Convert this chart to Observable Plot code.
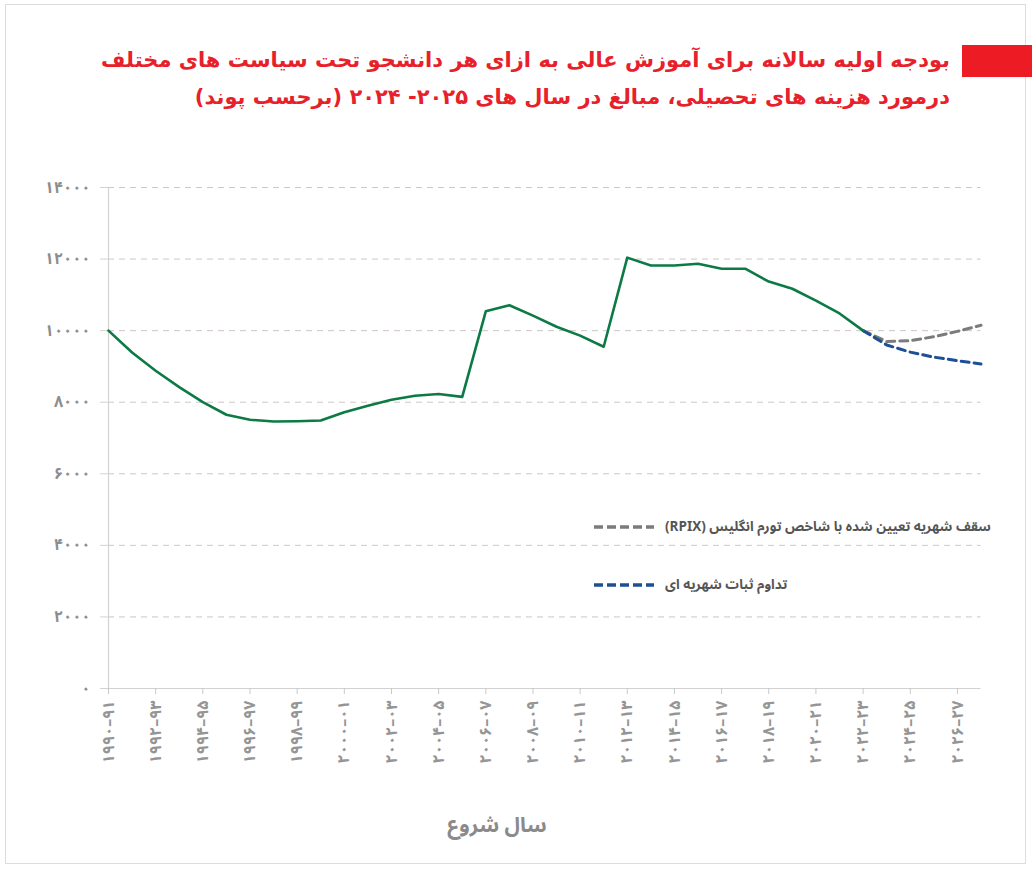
<!DOCTYPE html>
<html lang="fa">
<head>
<meta charset="utf-8">
<script src="https://cdn.jsdelivr.net/npm/d3@7"></script>
<script src="https://cdn.jsdelivr.net/npm/@observablehq/plot@0.6"></script>
<style>
  html, body { margin: 0; padding: 0; background: #fff; }
  #wrap { position: relative; width: 1032px; height: 870px; overflow: hidden; background: #fff;
          font-family: "Noto Sans Arabic", "DejaVu Sans", sans-serif; }
  #frame { position: absolute; left: 5px; top: 4px; width: 1021px; height: 860px; border: 1px solid #dcdcdc; box-sizing: border-box; }
  #redbar { position: absolute; left: 962px; top: 45px; width: 70px; height: 32px; background: #ed1c24; }
  .tline { position: absolute; right: 82px; width: 900px; direction: rtl; text-align: right;
           font-family: "DejaVu Sans", sans-serif;
           color: #e8202a; font-weight: bold; font-size: 21px; line-height: 30px; white-space: nowrap; }
  #chart { position: absolute; left: 0; top: 150px; }
  #xlabel { position: absolute; left: 497px; top: 803px; transform: translateX(-50%); direction: rtl;
            color: #8a8a8a; font-weight: bold; font-size: 21px; }
  .leg { position: absolute; left: 593px; display: flex; align-items: center; gap: 10px; }
  .leg span { direction: rtl; color: #555; font-size: 13.5px; font-weight: bold; white-space: nowrap; }
</style>
</head>
<body>
<div id="wrap">
  <div id="frame"></div>
  <div id="redbar"></div>
  <div class="tline" style="top:45px">بودجه اولیه سالانه برای آموزش عالی به ازای هر دانشجو تحت سیاست های مختلف</div>
  <div class="tline" style="top:82px">درمورد هزینه های تحصیلی، مبالغ در سال های ۲۰۲۵- ۲۰۲۴ (برحسب پوند)</div>
  <div id="chart"></div>
  <div class="leg" id="leg1" style="top:512px"></div>
  <div class="leg" id="leg2" style="top:570px"></div>
  <div id="xlabel">سال شروع</div>
</div>
<script>
// ---- data ----
const years = [1990,1991,1992,1993,1994,1995,1996,1997,1998,1999,2000,2001,2002,2003,2004,2005,2006,2007,2008,2009,2010,2011,2012,2013,2014,2015,2016,2017,2018,2019,2020,2021,2022];
const budget = [10000,9390,8880,8420,8000,7650,7510,7460,7470,7490,7720,7900,8070,8180,8230,8150,10540,10710,10420,10110,9860,9550,12040,11820,11820,11870,11730,11730,11370,11170,10840,10480,10000];
const projYears = [2022,2023,2024,2025,2026,2027];
const rpixCap = [10000,9700,9720,9830,9980,10150];
const frozenFee = [10000,9600,9400,9260,9160,9070];
const xTickYears = [1990,1992,1994,1996,1998,2000,2002,2004,2006,2008,2010,2012,2014,2016,2018,2020,2022,2024,2026];
const yTicks = [0,2000,4000,6000,8000,10000,12000,14000];
const seriesNames = ["سقف شهریه تعیین شده با شاخص تورم انگلیس (RPIX)", "تداوم ثبات شهریه ای"];
const colors = { hist: "#0b7a45", rpix: "#7b7b7b", frozen: "#1c4f94" };

const fa = s => String(s).replace(/\d/g, d => "۰۱۲۳۴۵۶۷۸۹"[d]);
const yearLabel = y => fa(y) + "–" + fa(String(y + 1).slice(-2));

const hist = years.map((y, i) => ({ year: y, value: budget[i] }));
const rpix = projYears.map((y, i) => ({ year: y, value: rpixCap[i] }));
const frozen = projYears.map((y, i) => ({ year: y, value: frozenFee[i] }));

const chart = Plot.plot({
  width: 1032,
  height: 720,
  marginTop: 37,
  marginBottom: 182,
  marginLeft: 108,
  marginRight: 51.5,
  style: { fontFamily: "'Noto Sans Arabic', 'DejaVu Sans', sans-serif", background: "transparent" },
  x: { domain: [1990, 2027] },
  y: { domain: [0, 14000] },
  marks: [
    Plot.ruleY(yTicks.filter(d => d > 0), { stroke: "#cfc5c5", strokeDasharray: "6,5", strokeWidth: 1 }),
    Plot.ruleY([0], { stroke: "#d2d2d2", strokeWidth: 1.2 }),
    Plot.ruleX([1990], { stroke: "#d2d2d2", strokeWidth: 1.2 }),
    Plot.axisY({ ticks: yTicks, tickFormat: fa, tickSize: 8, tickPadding: 10, stroke: "#d8d0d0",
                 fill: "#8d8d8d", fontSize: 16, fontWeight: "bold", label: null }),
    Plot.axisX({ ticks: xTickYears, tickFormat: yearLabel, tickRotate: -90, tickSize: 6, tickPadding: 6,
                 stroke: "#c8c8c8", fill: "#959595", fontSize: 16, fontWeight: "bold", label: null }),
    Plot.line(rpix, { x: "year", y: "value", stroke: colors.rpix, strokeWidth: 3, strokeDasharray: "8,5" }),
    Plot.line(frozen, { x: "year", y: "value", stroke: colors.frozen, strokeWidth: 3, strokeDasharray: "8,5" }),
    Plot.line(hist, { x: "year", y: "value", stroke: colors.hist, strokeWidth: 2.6 })
  ]
});
document.getElementById("chart").appendChild(chart);

function swatch(color) {
  return `<svg width="62" height="8"><line x1="1" y1="4" x2="61" y2="4" stroke="${color}" stroke-width="3.5" stroke-dasharray="9,4"/></svg>`;
}
document.getElementById("leg1").innerHTML = swatch(colors.rpix) + `<span>${seriesNames[0]}</span>`;
document.getElementById("leg2").innerHTML = swatch(colors.frozen) + `<span>${seriesNames[1]}</span>`;
</script>
</body>
</html>
